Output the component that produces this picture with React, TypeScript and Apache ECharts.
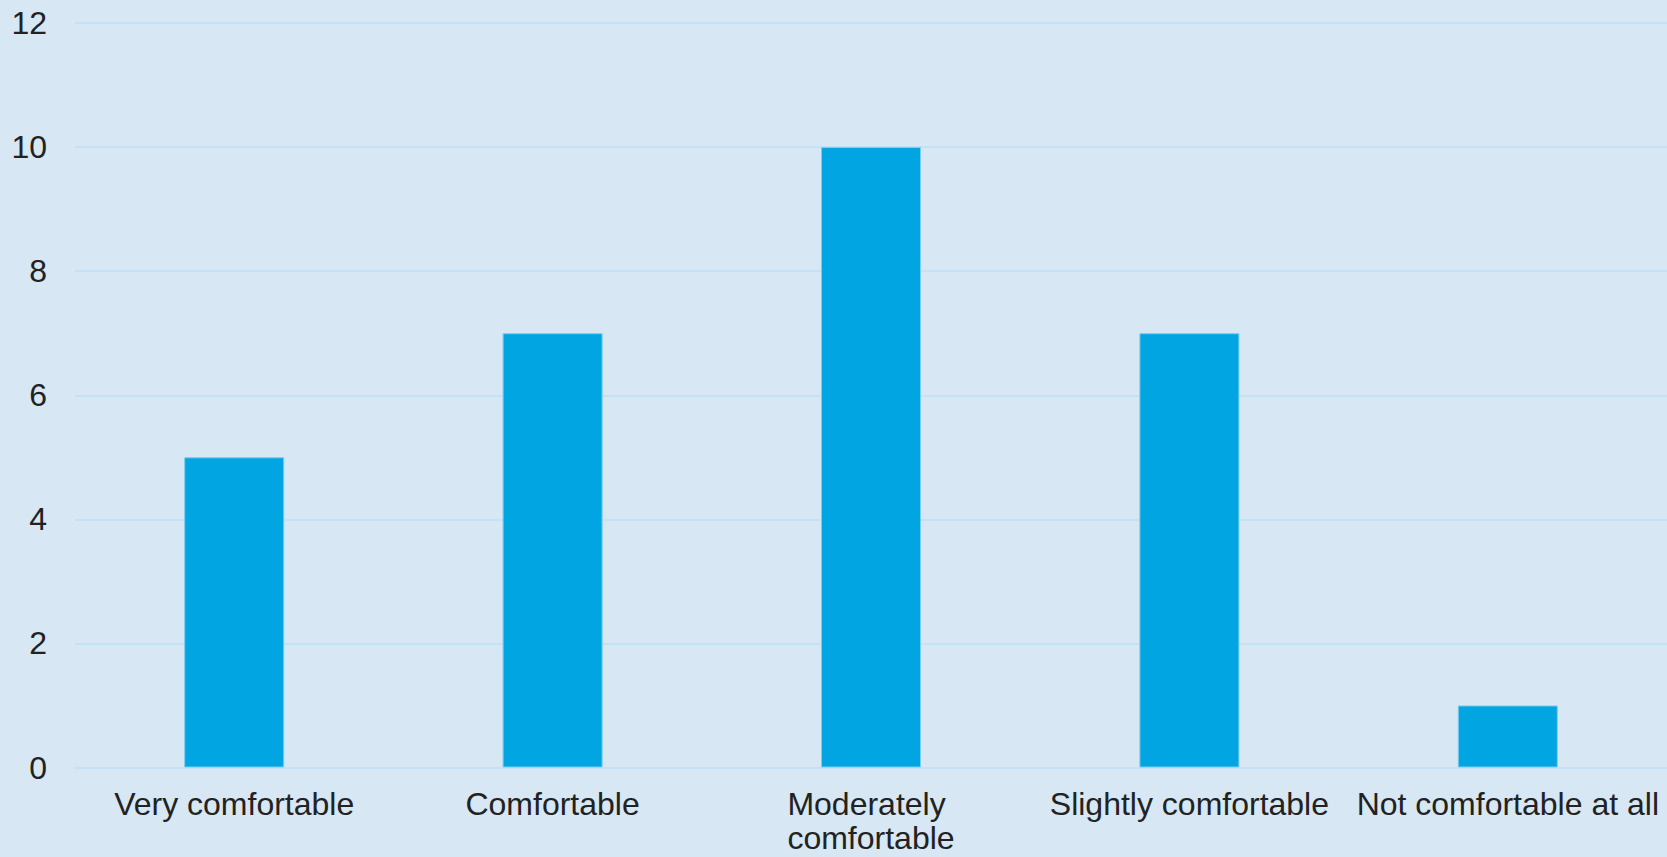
import React, { useEffect, useRef } from "react";
import * as echarts from "echarts";

const categories = [
  "Very comfortable",
  "Comfortable",
  "Moderately comfortable",
  "Slightly comfortable",
  "Not comfortable at all",
];
const values = [5, 7, 10, 7, 1];
const yMin = 0;
const yMax = 12;
const yStep = 2;

export default function App() {
  const ref = useRef<HTMLDivElement>(null);
  useEffect(() => {
    document.body.style.margin = "0";
    const chart = echarts.init(ref.current!, null, { renderer: "svg" });
    chart.setOption({
      animation: false,
      backgroundColor: "#D7E7F4",
      grid: { left: 75, width: 1596.5, top: 23, bottom: 89.5, containLabel: false },
      xAxis: {
        type: "category",
        data: categories,
        axisLine: { show: true, lineStyle: { color: "#C3E2F8", width: 2 } },
        axisTick: { show: false },
        axisLabel: {
          interval: 0,
          hideOverlap: false,
          color: "#222222",
          fontFamily: "Liberation Sans, Arial, sans-serif",
          fontSize: 32,
          lineHeight: 34,
          margin: 19,
          width: 312,
          overflow: "break",
        },
      },
      yAxis: {
        type: "value",
        min: yMin,
        max: yMax,
        interval: yStep,
        axisLine: { show: false },
        axisTick: { show: false },
        splitLine: { lineStyle: { color: "#C3E2F8", width: 2 } },
        axisLabel: {
          color: "#222222",
          fontFamily: "Liberation Sans, Arial, sans-serif",
          fontSize: 32,
          margin: 28,
        },
      },
      series: [
        {
          type: "bar",
          data: values,
          barWidth: 100,
          itemStyle: { color: "#00A5E2", borderColor: "#7CCBF0", borderWidth: 1 },
        },
      ],
    });
    return () => chart.dispose();
  }, []);
  return <div ref={ref} style={{ width: 1667, height: 857 }} />;
}
